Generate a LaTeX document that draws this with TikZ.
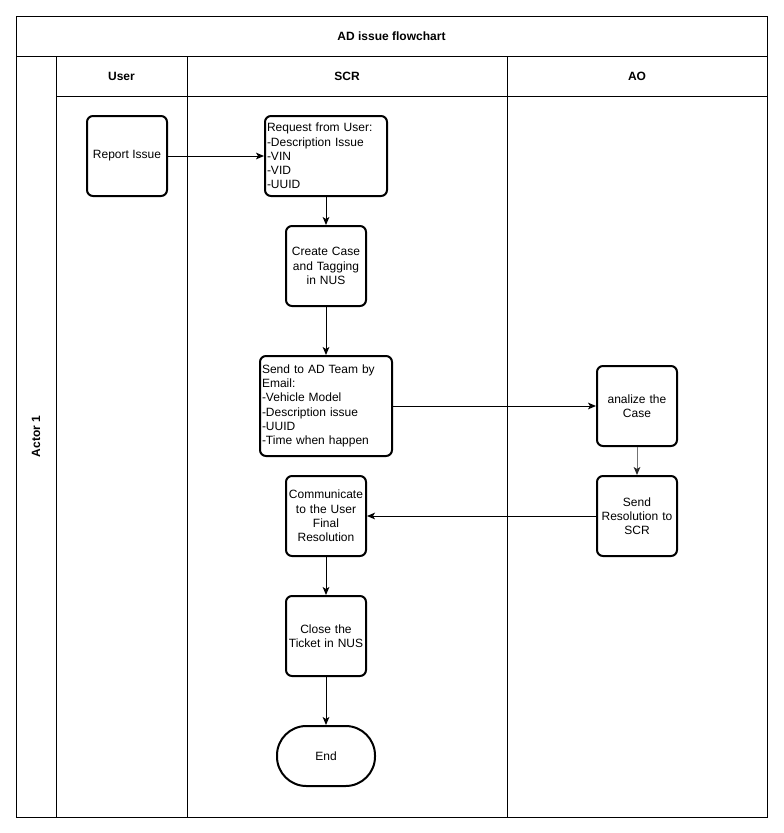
\documentclass[tikz,border=0pt]{standalone}
\usepackage{fontspec}
\setmainfont{Liberation Sans}
\usetikzlibrary{arrows.meta}
\begin{document}
\begin{tikzpicture}[x=0.75pt,y=-0.75pt,
  lane/.style={draw=black,line width=0.75pt},
  hdr/.style={font=\fontsize{9}{11}\selectfont\bfseries},
  box/.style={draw=black,line width=1.5pt,rounded corners=4.5pt,inner sep=1pt,
    font=\fontsize{9}{10.7}\selectfont,align=center,minimum width=60pt,minimum height=60pt},
  lbox/.style={box,align=left},
  conn/.style={line width=0.75pt,-{Stealth[length=6pt,width=5pt,inset=1.5pt]}}]
\useasboundingbox (0,0) rectangle (783,833);
\fill[white] (0,0) rectangle (783,833);
% pool and lanes
\draw[lane] (16,16) rectangle (767,817);
\draw[lane] (16,56) -- (767,56);
\draw[lane] (56,56) -- (56,817);
\draw[lane] (56,96) -- (767,96);
\draw[lane] (187,56) -- (187,817);
\draw[lane] (507,56) -- (507,817);
\node[hdr] (title) at (391.5,36) {AD issue flowchart};
\node[hdr,rotate=90] (actor) at (36,436.5) {Actor 1};
\node[hdr] (huser) at (121.5,76) {User};
\node[hdr] (hscr) at (347,76) {SCR};
\node[hdr] (hao) at (637,76) {AO};
% boxes
\node[box] (report) at (127,156) {Report Issue};
\node[lbox,minimum width=91.5pt,text width=88.5pt] (request) at (326,156)
  {Request from User:\\-Description Issue\\-VIN\\-VID\\-UUID};
\node[box,text width=58pt] (create) at (326,266) {Create Case and Tagging in NUS};
\node[lbox,minimum width=99pt,minimum height=75pt,text width=96pt] (send) at (326,406)
  {Send to AD Team by\\Email:\\-Vehicle Model\\-Description issue\\-UUID\\-Time when happen};
\node[box,text width=58pt] (analize) at (637,406) {analize the\\Case};
\node[box,text width=58pt] (sendres) at (637,516) {Send\\Resolution to\\SCR};
\node[box,text width=58pt] (comm) at (326,516) {Communicate\\to the User\\Final\\Resolution};
\node[box,text width=58pt] (close) at (326,636) {Close the\\Ticket in NUS};
\node[box,minimum width=73.5pt,minimum height=45pt,rounded corners=22pt] (end) at (326,756) {End};
% connectors
\draw[conn] (report) -- (request);
\draw[conn] (request) -- (create);
\draw[conn] (create) -- (send);
\draw[conn] (send) -- (analize);
\draw[line width=0.75pt,draw=black!55,-{Stealth[length=6pt,width=5pt,inset=1.5pt,color=black!85]}] (analize) -- (sendres);
\draw[conn] (sendres) -- (comm);
\draw[conn] (comm) -- (close);
\draw[conn] (close) -- (end);
\end{tikzpicture}
\end{document}
